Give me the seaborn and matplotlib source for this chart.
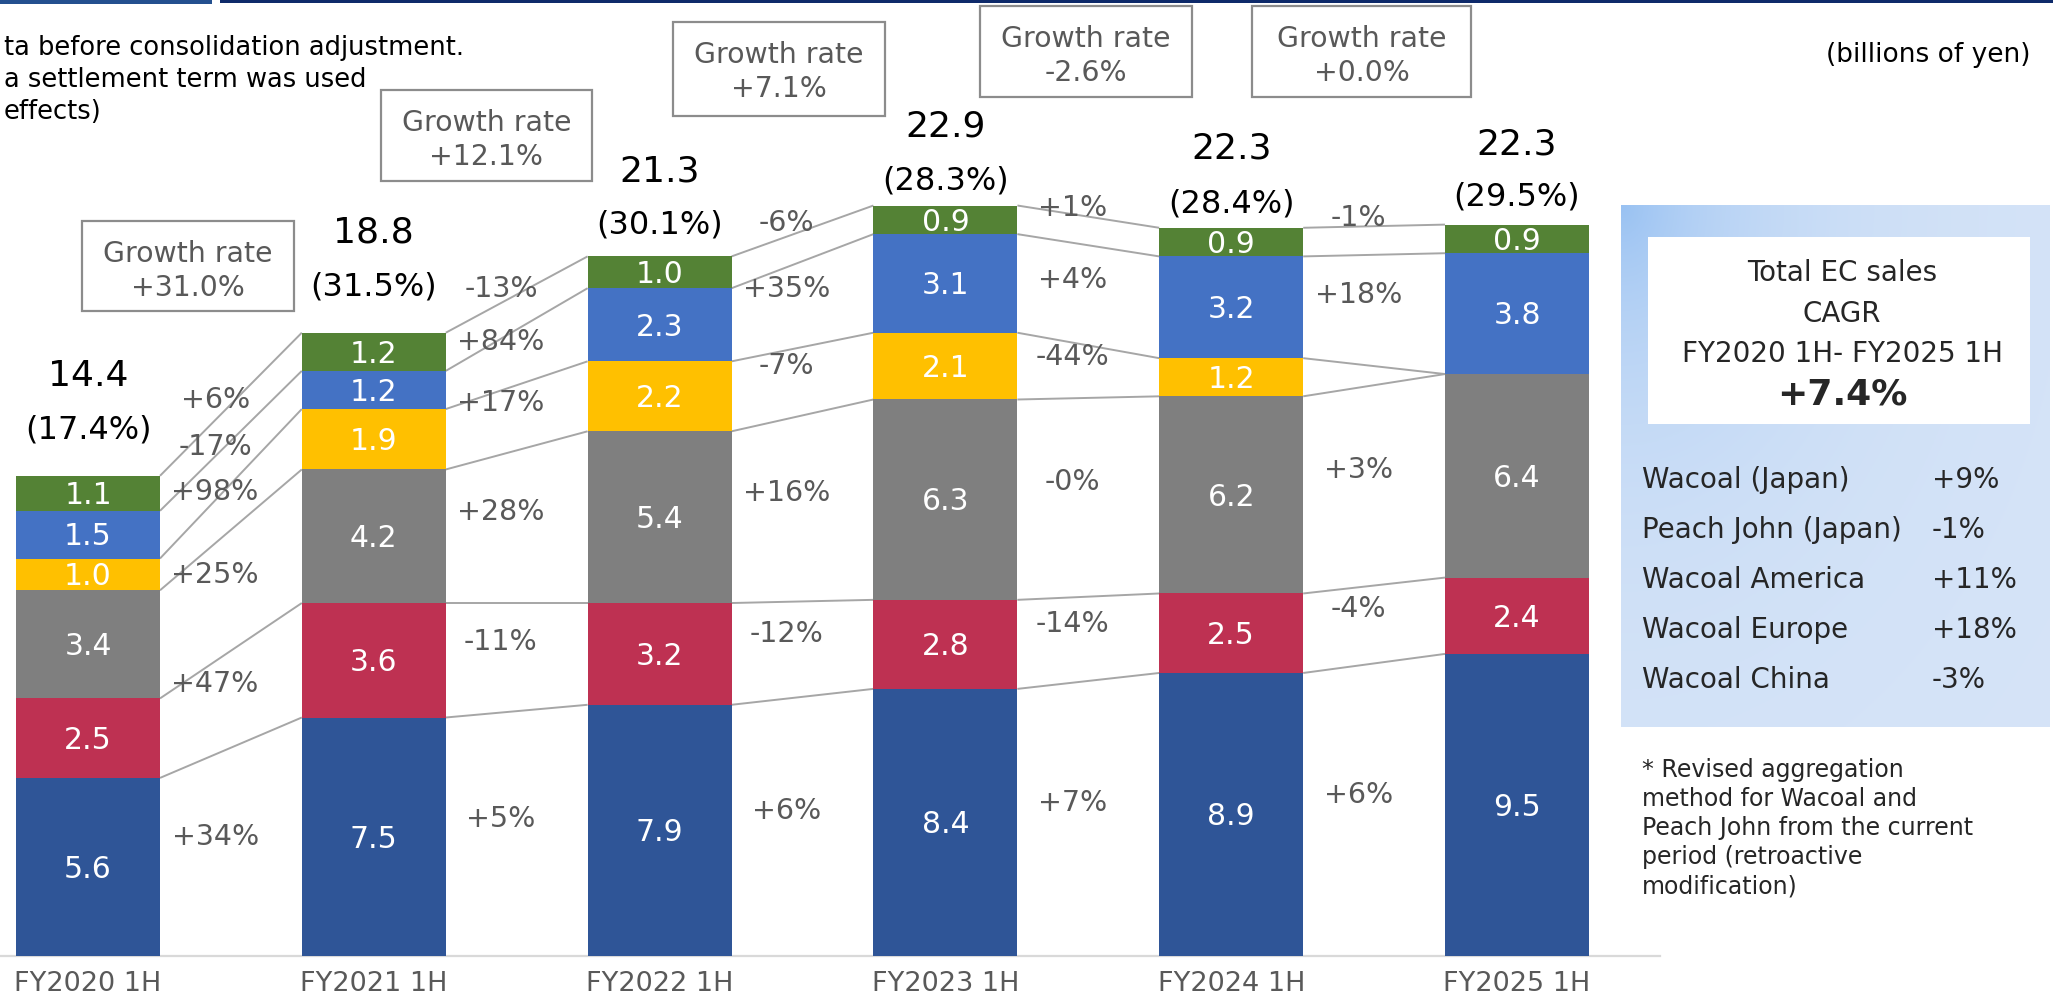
import numpy as np
import matplotlib
matplotlib.use("Agg")
import matplotlib.pyplot as plt
import seaborn as sns
from matplotlib.patches import Rectangle

# ---------------- data ----------------
periods = ["FY2020 1H", "FY2021 1H", "FY2022 1H", "FY2023 1H", "FY2024 1H", "FY2025 1H"]

wacoal_japan = [5.6, 7.5, 7.9, 8.4, 8.9, 9.5]
peach_john = [2.5, 3.6, 3.2, 2.8, 2.5, 2.4]
wacoal_america = [3.4, 4.2, 5.4, 6.3, 6.2, 6.4]
other_japan = [1.0, 1.9, 2.2, 2.1, 1.2, 0.0]
wacoal_europe = [1.5, 1.2, 2.3, 3.1, 3.2, 3.8]
wacoal_china = [1.1, 1.2, 1.0, 0.9, 0.9, 0.9]

total_labels = ["14.4", "18.8", "21.3", "22.9", "22.3", "22.3"]
ec_ratio_labels = ["(17.4%)", "(31.5%)", "(30.1%)", "(28.3%)", "(28.4%)", "(29.5%)"]
total_growth = ["+31.0%", "+12.1%", "+7.1%", "-2.6%", "+0.0%"]

# segment growth per gap, bottom -> top
growth_gap1 = ["+34%", "+47%", "+25%", "+98%", "-17%", "+6%"]
growth_gap2 = ["+5%", "-11%", "+28%", "+17%", "+84%", "-13%"]
growth_gap3 = ["+6%", "-12%", "+16%", "-7%", "+35%", "-6%"]
growth_gap4 = ["+7%", "-14%", "-0%", "-44%", "+4%", "+1%"]
growth_gap5 = ["+6%", "-4%", "+3%", "", "+18%", "-1%"]

cagr_names = ["Wacoal (Japan)", "Peach John (Japan)", "Wacoal America", "Wacoal Europe", "Wacoal China"]
cagr_values = ["+9%", "-1%", "+11%", "+18%", "-3%"]
cagr_total = "+7.4%"

# ---------------- style ----------------
seg_series = [wacoal_japan, peach_john, wacoal_america, other_japan, wacoal_europe, wacoal_china]
seg_colors = ["#2F5597", "#BE3152", "#7F7F7F", "#FFC000", "#4472C4", "#548235"]
gap_growth = [growth_gap1, growth_gap2, growth_gap3, growth_gap4, growth_gap5]
ratio_lift = [1.16, 1.16, 0.72, 0.50, 0.47, 0.60]   # label placement above bar top
total_extra = [1.66, 1.67, 1.64, 1.67, 1.70, 1.60]

W, H = 2053, 997
fig = plt.figure(figsize=(W / 100, H / 100), dpi=100)
sns.set_style("white")
plt.rcParams["font.family"] = ["DejaVu Sans"]

PX_X = 285.8   # px per category
X0 = 88.0      # px of first bar centre
BASE = 956.0   # px baseline (from top)
PX_Y = 31.8    # px per billion yen
AX_RIGHT = 1660.0

ax = fig.add_axes([0, (H - BASE) / H, AX_RIGHT / W, BASE / H])
bw = 144 / PX_X

bottom = np.zeros(len(periods))
cums = [bottom.copy()]
for vals, col in zip(seg_series, seg_colors):
    sns.barplot(x=periods, y=vals, order=periods, bottom=bottom, color=col,
                saturation=1, width=bw, errorbar=None, ax=ax,
                linewidth=0, edgecolor="none", zorder=3)
    bottom = bottom + np.array(vals)
    cums.append(bottom.copy())

ax.set_xlim(-X0 / PX_X, (AX_RIGHT - X0) / PX_X)
ax.set_ylim(0, BASE / PX_Y)
ax.set_xlabel("")
ax.set_ylabel("")
ax.set_yticks([])
ax.set_xticks(range(len(periods)))
ax.set_xticklabels(periods, fontsize=19.5, color="#595959")
ax.tick_params(axis="x", length=0, pad=11)
for s in ["top", "left", "right"]:
    ax.spines[s].set_visible(False)
ax.spines["bottom"].set_color("#D9D9D9")
ax.spines["bottom"].set_linewidth(1.6)

# segment value labels
for k, vals in enumerate(seg_series):
    for i, v in enumerate(vals):
        if v <= 0:
            continue
        mid = cums[k][i] + v / 2
        ax.text(i, mid - 0.34, f"{v:.1f}", ha="center", va="baseline",
                color="white", fontsize=21.5, zorder=5)

# connector lines between bars
half = bw / 2
for k in range(1, len(cums)):
    for i in range(len(periods) - 1):
        ax.plot([i + half, i + 1 - half], [cums[k][i], cums[k][i + 1]],
                color="#A6A6A6", lw=1.4, zorder=2, solid_capstyle="butt")

# segment growth labels
for g, labels in enumerate(gap_growth):
    for k, lab in enumerate(labels):
        if not lab:
            continue
        m1 = cums[k][g] + seg_series[k][g] / 2
        m2 = cums[k][g + 1] + seg_series[k][g + 1] / 2
        yy = (m1 + m2) / 2 + (0.8 if k == len(labels) - 1 else 0.55)
        ax.text(g + 0.5 - 0.055, yy - 0.33, lab, ha="center", va="baseline",
                color="#595959", fontsize=20.5, zorder=4)

# totals and EC ratio
tops = cums[-1]
for i in range(len(periods)):
    yr = tops[i] + ratio_lift[i]
    ax.text(i, yr, ec_ratio_labels[i], ha="center", va="baseline", fontsize=23, color="black")
    ax.text(i, yr + total_extra[i], total_labels[i], ha="center", va="baseline",
            fontsize=26, color="black")

# ---------------- overlay (pixel coords) ----------------
ov = fig.add_axes([0, 0, 1, 1])
ov.axis("off")
ov.patch.set_alpha(0)

# header lines
ov.add_patch(Rectangle((0, 0), 212, 4, color="#24508F", lw=0))
ov.add_patch(Rectangle((220, 0), W - 220, 3, color="#0E2A6A", lw=0))

# growth rate boxes
boxes = [(82, 221), (381, 90), (673, 22), (980, 6), (1252, 6)]
bws = [212, 211, 212, 212, 219]
bhs = [90, 91, 94, 91, 91]
for (bx, by), bwid, bh, txt in zip(boxes, bws, bhs, total_growth):
    ov.add_patch(Rectangle((bx, by), bwid, bh, fill=False, ec="#8C8C8C", lw=1.6))
    cx = bx + bwid / 2
    ov.text(cx, by + 41, "Growth rate", ha="center", va="baseline", fontsize=20.4, color="#595959")
    ov.text(cx, by + 75, txt, ha="center", va="baseline", fontsize=20.4, color="#595959")

# note text top-left (cut off in source)
note_lines = ["ta before consolidation adjustment.", "a settlement term was used", "effects)"]
for j, ln in enumerate(note_lines):
    ov.text(4, 55 + 32 * j, ln, ha="left", va="baseline", fontsize=18.5, color="black")

ov.text(2031, 62, "(billions of yen)", ha="right", va="baseline", fontsize=19, color="black")

# CAGR panel with gradient
gy, gx = np.mgrid[0:1:200j, 0:1:200j]
d = np.sqrt(gx ** 2 + (gy * 0.9) ** 2)
c_near = np.array([0.60, 0.76, 0.95])
c_far = np.array([0.84, 0.895, 0.97])
wgt = np.exp(-d * 3.2)[..., None]
grad = c_far + (c_near - c_far) * wgt
ov.imshow(grad, extent=(1621, 2050, 727, 205), aspect="auto", zorder=0.5)
ov.add_patch(Rectangle((1648, 237), 382, 187, color="white", lw=0, zorder=1))
ov.text(1842, 281, "Total EC sales", ha="center", va="baseline", fontsize=20, zorder=2)
ov.text(1842, 322, "CAGR", ha="center", va="baseline", fontsize=20, zorder=2)
ov.text(1842, 362, "FY2020 1H- FY2025 1H", ha="center", va="baseline", fontsize=20, zorder=2)
ov.text(1842, 404, cagr_total, ha="center", va="baseline", fontsize=26, fontweight="bold", zorder=2)
for j, (nm, vv) in enumerate(zip(cagr_names, cagr_values)):
    yb = 488 + 50 * j
    ov.text(1642, yb, nm, ha="left", va="baseline", fontsize=20, zorder=2)
    ov.text(1932, yb, vv, ha="left", va="baseline", fontsize=20, zorder=2)

foot = ["* Revised aggregation", "method for Wacoal and", "Peach John from the current",
        "period (retroactive", "modification)"]
for j, ln in enumerate(foot):
    ov.text(1642, 777 + 29 * j, ln, ha="left", va="baseline", fontsize=17, zorder=2)

ov.set_xlim(0, W)
ov.set_ylim(H, 0)

fig.savefig("out.png", dpi=100)
